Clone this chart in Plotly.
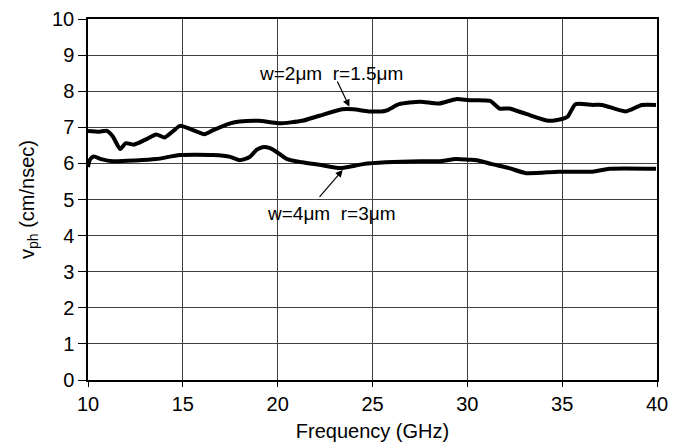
import plotly.graph_objects as go

# Series: w=2um r=1.5um
freq_a = [10.0, 10.6, 11.0, 11.3, 11.7, 12.0, 12.4, 13.0, 13.6, 14.05, 14.5, 14.85, 15.4,
          16.15, 16.6, 17.5, 18.0, 19.0, 19.6, 20.1, 21.3, 22.2, 23.4, 24.0, 24.8, 25.7,
          26.4, 27.5, 28.5, 29.4, 30.1, 31.2, 31.7, 32.2, 33.1, 34.3, 35.0, 35.3, 35.7,
          36.6, 37.1, 38.35, 39.2, 39.95]
vph_a = [6.9, 6.88, 6.9, 6.75, 6.4, 6.56, 6.52, 6.65, 6.8, 6.72, 6.9, 7.04, 6.95,
         6.81, 6.92, 7.11, 7.16, 7.18, 7.14, 7.11, 7.18, 7.32, 7.50, 7.5, 7.44, 7.46,
         7.64, 7.71, 7.66, 7.78, 7.75, 7.73, 7.52, 7.52, 7.37, 7.18, 7.23, 7.3, 7.64,
         7.62, 7.62, 7.44, 7.62, 7.62]

# Series: w=4um r=3um
freq_b = [10.0, 10.1, 10.3, 10.7, 11.3, 12.5, 13.6, 14.85, 16.6, 17.5, 18.0, 18.5, 18.9,
          19.2, 19.6, 20.1, 20.5, 21.3, 22.2, 23.3, 24.5, 25.7, 27.5, 28.5, 29.4, 30.1,
          30.5, 31.3, 32.2, 33.1, 34.8, 36.6, 37.5, 39.95]
vph_b = [5.9, 6.1, 6.19, 6.12, 6.06, 6.08, 6.12, 6.23, 6.23, 6.18, 6.09, 6.17, 6.38,
         6.45, 6.42, 6.26, 6.12, 6.03, 5.96, 5.87, 5.98, 6.03, 6.06, 6.06, 6.12, 6.1,
         6.09, 5.98, 5.87, 5.73, 5.77, 5.77, 5.85, 5.85]

x_ticks = [10, 15, 20, 25, 30, 35, 40]
y_ticks = list(range(0, 11))

label_a = "w=2\u03bcm  r=1.5\u03bcm"
label_b = "w=4\u03bcm  r=3\u03bcm"

FONT = "Liberation Sans, Arial, sans-serif"

fig = go.Figure()
fig.add_trace(go.Scatter(x=freq_a, y=vph_a, mode="lines", line=dict(color="black", width=4, shape="spline", smoothing=0.6), showlegend=False))
fig.add_trace(go.Scatter(x=freq_b, y=vph_b, mode="lines", line=dict(color="black", width=4, shape="spline", smoothing=0.6), showlegend=False))

# arrows
fig.add_annotation(x=23.78, y=7.57, ax=23.11, ay=8.31, axref="x", ayref="y", xref="x", yref="y",
                   text="", showarrow=True, arrowhead=2, arrowsize=1.2, arrowwidth=1.2, arrowcolor="black")
fig.add_annotation(x=23.43, y=5.82, ax=22.14, ay=5.03, axref="x", ayref="y", xref="x", yref="y",
                   text="", showarrow=True, arrowhead=2, arrowsize=1.2, arrowwidth=1.2, arrowcolor="black")
# labels
fig.add_annotation(x=22.83, y=8.5, text=label_a, showarrow=False, font=dict(size=19, color="black", family=FONT))
fig.add_annotation(x=22.81, y=4.6, text=label_b, showarrow=False, font=dict(size=19, color="black", family=FONT))

# page body has an 8px margin: shrink the figure and margins to compensate
fig.update_layout(
    width=673, height=439,
    margin=dict(l=80, r=24, t=11, b=67),
    paper_bgcolor="white", plot_bgcolor="white",
    font=dict(family=FONT, color="black", size=19),
)
fig.update_xaxes(range=[10, 40], tickvals=x_ticks, ticktext=[str(v) for v in x_ticks],
                 showgrid=True, gridcolor="#404040", gridwidth=1,
                 showline=True, linecolor="black", linewidth=1.5, mirror=True,
                 ticks="outside", ticklen=5, tickcolor="black", automargin=False,
                 tickfont=dict(size=20), zeroline=False,
                 title=dict(text="Frequency (GHz)", font=dict(size=20), standoff=10))
fig.update_yaxes(range=[0, 10], tickvals=y_ticks, ticktext=[str(v) for v in y_ticks],
                 showgrid=True, gridcolor="#404040", gridwidth=1,
                 showline=True, linecolor="black", linewidth=1.5, mirror=True,
                 ticks="outside", ticklen=8, tickcolor="black", automargin=False,
                 tickfont=dict(size=20), zeroline=False,
                 title=dict(text="v<sub>ph</sub> (cm/nsec)", font=dict(size=20), standoff=12))

fig.write_html("out.html")
